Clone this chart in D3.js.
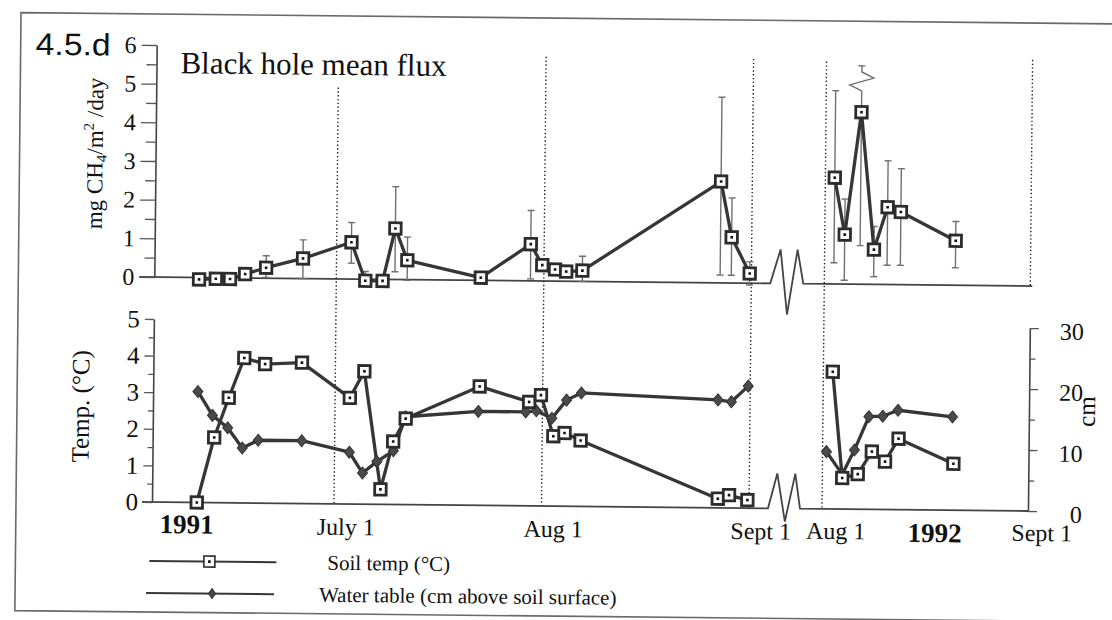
<!DOCTYPE html>
<html>
<head>
<meta charset="utf-8">
<script src="https://cdn.jsdelivr.net/npm/d3@7"></script>
<style>
body { margin: 0; background: #fff; }
text { font-family: "Liberation Serif", "Times New Roman", serif; fill: #111; }
</style>
</head>
<body>
<svg id="chart" width="1112" height="620"></svg>
<script>
// Sampling days. Flux and soil temp were taken the same days,
// water table has its own list.
var sampleDates91 = ["1991-06-10 12","1991-06-13 00","1991-06-15 03","1991-06-17 09","1991-06-20 12","1991-06-26 00",
	"1991-07-03 05","1991-07-05 08","1991-07-07 22","1991-07-09 18","1991-07-11 14","1991-07-22 14","1991-07-30 00",
	"1991-07-31 18","1991-08-02 16","1991-08-04 08","1991-08-06 18","1991-08-27 08","1991-08-29 00","1991-08-31 18"];
var sampleDates92 = ["1992-08-02 10","1992-08-04 00","1992-08-06 08","1992-08-08 10","1992-08-10 10","1992-08-12 10","1992-08-20 17"];

// mg CH4/m2/day, mean and error bar ends (null = no bar)
var flux91 = [-0.05,-0.03,-0.03,0.1,0.27,0.52,0.95,-0.04,-0.04,1.32,0.5,0.07,0.95,0.41,0.3,0.25,0.28,2.62,1.18,0.25];
var fluxLo91 = [null,null,null,null,0.02,0,0.41,-0.05,null,0.2,-0.02,null,0.05,0.25,null,null,0,0.2,0.2,-0.05];
var fluxHi91 = [null,null,null,null,0.58,1.0,1.46,0.2,null,2.4,1.1,null,1.82,0.5,null,null,0.65,4.8,2.2,0.55];
var flux92 = [2.75,1.28,4.45,0.9,2.0,1.88,1.15];
var fluxLo92 = [0.55,0.1,1.0,0.2,0.5,0.5,0.45];
var fluxHi92 = [5.0,2.2,5.65,1.5,3.2,3.0,1.65];
var brokenBars92 = [2]; // bar drawn with a break symbol

// soil temp (°C)
var temp91 = [0,1.78,2.87,3.96,3.8,3.85,2.9,3.63,0.41,1.72,2.35,3.25,2.84,3.03,1.91,2.0,1.8,0.25,0.35,0.22];
var temp92 = [3.75,0.85,0.96,1.58,1.31,1.94,1.27];

// water table (cm above soil surface)
var wtDates91 = ["1991-06-10 12","1991-06-12 17","1991-06-15 00","1991-06-17 05","1991-06-19 14","1991-06-26 02",
	"1991-07-03 05","1991-07-05 05","1991-07-07 08","1991-07-09 19","1991-07-11 14","1991-07-22 10","1991-07-29 12",
	"1991-07-31 02","1991-08-02 10","1991-08-04 14","1991-08-06 19","1991-08-27 05","1991-08-29 05","1991-08-31 17"];
var wt91 = [18.2,14.3,12.3,9.0,10.3,10.3,8.5,5.1,7.0,8.8,14.4,15.4,15.4,15.6,14.4,17.4,18.6,17.7,17.4,20.0];
var wtDates92 = ["1992-08-01 14","1992-08-04 00","1992-08-05 19","1992-08-07 22","1992-08-10 00","1992-08-12 07","1992-08-20 12"];
var wt92 = [9.4,5.7,9.7,15.2,15.3,16.3,15.3];

// axes and labels
var fluxTicks = [0,1,2,3,4,5,6];
var tempTicks = [0,1,2,3,4,5];
var cmTicks = [0,10,20,30];
var monthDates91 = ["1991-07-01 00","1991-08-01 00","1991-09-01 00"];
var monthDates92 = ["1992-08-01 00","1992-09-01 00"];
var monthLabels91 = ["July 1","Aug 1","Sept 1"];
var monthLabels92 = ["Aug 1","Sept 1"];
var yearDates = ["1991-06-09 00","1992-08-18 00"];
var yearLabels = ["1991","1992"];

var parse = d3.timeParse("%Y-%m-%d %H");
var ink = "#363636";

var svg = d3.select("#chart");
// the source is a slightly tilted scan, so the whole drawing is turned a little
var g = svg.append("g").attr("transform", "rotate(0.59,152,502)");

var x91 = d3.scaleTime().domain([parse("1991-07-01 00"), parse("1991-09-01 00")]).range([334, 749]);
var x92 = d3.scaleTime().domain([parse("1992-08-01 00"), parse("1992-09-01 00")]).range([822, 1028]);
var yF = d3.scaleLinear().domain([0, 6]).range([277, 45]);
var yT = d3.scaleLinear().domain([0, 5]).range([502, 319]);
var yC = d3.scaleLinear().domain([0, 30]).range([502, 319]);

// frame round the figure
g.append("path")
	.attr("d", "M1200,14H16V612H1200")
	.attr("fill", "none").attr("stroke", "#6a6a6a").attr("stroke-width", 1.6);

// baselines with break marks
g.append("path")
	.attr("d", "M137," + yF(0) + "H768l10,-34l7,65l10,-65l6,34H1030")
	.attr("fill", "none").attr("stroke", "#444").attr("stroke-width", 1.8);
g.append("path")
	.attr("d", "M142," + yT(0) + "H768l9,-35l8,48l10,-48l5,35H1028")
	.attr("fill", "none").attr("stroke", "#444").attr("stroke-width", 1.8);

// dotted month lines
function vdots(x, y1, y2) {
	g.append("line").attr("x1", x).attr("x2", x).attr("y1", y1).attr("y2", y2)
		.attr("stroke", "#222").attr("stroke-width", 1.4).attr("stroke-dasharray", "1.4,2.4");
}
monthDates91.forEach(function (d, i) {
	vdots(x91(parse(d)), i == 0 ? yF(4.95) : yF(5.8), yT(0));
});
vdots(x92(parse(monthDates92[0])), yF(5.75), yT(0));
vdots(x92(parse(monthDates92[1])), yF(5.85), yF(0));

// y axes
function styleAxis(sel) {
	sel.selectAll("path").attr("stroke", "#444").attr("stroke-width", 1.6);
	sel.selectAll("line").attr("stroke", "#555").attr("stroke-width", 1.3);
	sel.selectAll("text").attr("fill", "#111").attr("font-family", "Liberation Serif");
}
var axF = g.append("g").attr("transform", "translate(152,0)")
	.call(d3.axisLeft(yF).tickValues(fluxTicks).tickSize(15).tickSizeOuter(0).tickPadding(5).tickFormat(d3.format("d")));
axF.selectAll("text").attr("font-size", 24);
styleAxis(axF);
var axF2 = g.append("g").attr("transform", "translate(152,0)")
	.call(d3.axisLeft(yF).tickValues(d3.range(0.5, 6, 1)).tickSize(10).tickFormat(""));
axF2.select(".domain").remove();
styleAxis(axF2);

var axT = g.append("g").attr("transform", "translate(152,0)")
	.call(d3.axisLeft(yT).tickValues(tempTicks).tickSize(9).tickSizeOuter(0).tickPadding(5).tickFormat(d3.format("d")));
axT.selectAll("text").attr("font-size", 25);
styleAxis(axT);
var axT2 = g.append("g").attr("transform", "translate(152,0)")
	.call(d3.axisLeft(yT).tickValues(d3.range(0.5, 5, 1)).tickSize(5).tickFormat(""));
axT2.select(".domain").remove();
styleAxis(axT2);

var axC = g.append("g").attr("transform", "translate(1028,0)")
	.call(d3.axisRight(yC).tickValues(cmTicks).tickSize(9).tickSizeOuter(0).tickFormat(d3.format("d")));
axC.selectAll("text").attr("font-size", 24).attr("text-anchor", "end").attr("x", 54).attr("dy", "0.45em");
styleAxis(axC);
var axC2 = g.append("g").attr("transform", "translate(1028,0)")
	.call(d3.axisRight(yC).tickValues([5, 15, 25]).tickSize(6).tickFormat(""));
axC2.select(".domain").remove();
styleAxis(axC2);

// x labels
monthDates91.forEach(function (d, i) {
	g.append("text").attr("x", x91(parse(d)) + 12).attr("y", 533)
		.attr("text-anchor", "middle").attr("font-size", 24).text(monthLabels91[i]);
});
monthDates92.forEach(function (d, i) {
	g.append("text").attr("x", x92(parse(d)) + 14).attr("y", 532)
		.attr("text-anchor", "middle").attr("font-size", 24).text(monthLabels92[i]);
});
g.append("text").attr("x", x91(parse(yearDates[0]))).attr("y", 533)
	.attr("text-anchor", "middle").attr("font-size", 27).attr("font-weight", "bold").text(yearLabels[0]);
g.append("text").attr("x", x92(parse(yearDates[1]))).attr("y", 534)
	.attr("text-anchor", "middle").attr("font-size", 27).attr("font-weight", "bold").text(yearLabels[1]);

// titles
g.append("text").attr("x", 31).attr("y", 56)
	.style("font-family", "'Liberation Sans', Arial, sans-serif")
	.attr("font-size", 31).attr("textLength", 75).attr("lengthAdjust", "spacingAndGlyphs").text("4.5.d");
g.append("text").attr("x", 176).attr("y", 73).attr("font-size", 31).text("Black hole mean flux");

var yl = g.append("text").attr("transform", "translate(99,154) rotate(-90)")
	.attr("text-anchor", "middle").attr("font-size", 23);
yl.append("tspan").text("mg CH");
yl.append("tspan").attr("font-size", 15).attr("dy", 4).text("4");
yl.append("tspan").attr("dy", -4).text("/m");
yl.append("tspan").attr("font-size", 15).attr("dy", -9).text("2");
yl.append("tspan").attr("dy", 9).text(" /day");

g.append("text").attr("transform", "translate(88,407) rotate(-90)")
	.attr("text-anchor", "middle").attr("font-size", 25).text("Temp. (°C)");
g.append("text").attr("transform", "translate(1094,402) rotate(-90)")
	.attr("text-anchor", "middle").attr("font-size", 25).text("cm");

// marks
function squares(parent, pts, size, sw) {
	var s = parent.selectAll(null).data(pts).enter().append("g")
		.attr("transform", function (d) { return "translate(" + d[0] + "," + d[1] + ")"; });
	s.append("rect").attr("x", -size / 2).attr("y", -size / 2).attr("width", size).attr("height", size)
		.attr("fill", "#fff").attr("stroke", "#2c2c2c").attr("stroke-width", sw);
	s.append("rect").attr("x", -1.3).attr("y", -1.3).attr("width", 2.6).attr("height", 2.6).attr("fill", "#111");
}
function diamonds(parent, pts, w, h) {
	parent.selectAll(null).data(pts).enter().append("path")
		.attr("d", function (d) {
			return "M" + d[0] + "," + (d[1] - h) + "L" + (d[0] + w) + "," + d[1] + "L" + d[0] + "," + (d[1] + h) + "L" + (d[0] - w) + "," + d[1] + "Z";
		})
		.attr("fill", "#4a4a4a").attr("stroke", "#333").attr("stroke-width", 1);
}
var line = d3.line();
function series(pts) {
	g.append("path").attr("d", line(pts)).attr("fill", "none")
		.attr("stroke", ink).attr("stroke-width", 3.3).attr("stroke-linejoin", "round");
}

// error bars on flux
function errBars(dates, x, lo, hi, broken) {
	dates.forEach(function (d, i) {
		if (hi[i] == null) return;
		var xx = x(parse(d));
		var top = yF(hi[i]);
		var col = "#707070";
		if (broken.indexOf(i) >= 0) {
			var yb = yF(5.0);
			g.append("path")
				.attr("d", "M" + xx + "," + yF(lo[i]) + "V" + yb + "l-12,-6l24,-7l-12,-6V" + top)
				.attr("fill", "none").attr("stroke", col).attr("stroke-width", 1.4);
		} else {
			g.append("line").attr("x1", xx).attr("x2", xx).attr("y1", yF(lo[i])).attr("y2", top)
				.attr("stroke", col).attr("stroke-width", 1.4);
		}
		[lo[i], hi[i]].forEach(function (v) {
			g.append("line").attr("x1", xx - 3.5).attr("x2", xx + 3.5).attr("y1", yF(v)).attr("y2", yF(v))
				.attr("stroke", col).attr("stroke-width", 1.4);
		});
	});
}
errBars(sampleDates91, x91, fluxLo91, fluxHi91, []);
errBars(sampleDates92, x92, fluxLo92, fluxHi92, brokenBars92);

var f91 = sampleDates91.map(function (d, i) { return [x91(parse(d)), yF(flux91[i])]; });
var f92 = sampleDates92.map(function (d, i) { return [x92(parse(d)), yF(flux92[i])]; });
var t91 = sampleDates91.map(function (d, i) { return [x91(parse(d)), yT(temp91[i])]; });
var t92 = sampleDates92.map(function (d, i) { return [x92(parse(d)), yT(temp92[i])]; });
var w91 = wtDates91.map(function (d, i) { return [x91(parse(d)), yC(wt91[i])]; });
var w92 = wtDates92.map(function (d, i) { return [x92(parse(d)), yC(wt92[i])]; });

series(f91); series(f92);
series(w91); series(w92);
series(t91); series(t92);
diamonds(g, w91, 5, 6); diamonds(g, w92, 5, 6);
squares(g, f91, 11.5, 2.8); squares(g, f92, 11.5, 2.8);
squares(g, t91, 11.5, 2.8); squares(g, t92, 11.5, 2.8);

// legend
var lg = g.append("g");
lg.append("line").attr("x1", 150).attr("x2", 277).attr("y1", 561).attr("y2", 561).attr("stroke", ink).attr("stroke-width", 2);
squares(lg, [[210, 561]], 11, 1.6);
lg.append("text").attr("x", 328).attr("y", 568).attr("font-size", 21).text("Soil temp (°C)");
lg.append("line").attr("x1", 147).attr("x2", 275).attr("y1", 593).attr("y2", 593).attr("stroke", ink).attr("stroke-width", 2);
diamonds(lg, [[213, 593]], 3.5, 5);
lg.append("text").attr("x", 320).attr("y", 600).attr("font-size", 21).text("Water table (cm above soil surface)");
</script>
</body>
</html>
